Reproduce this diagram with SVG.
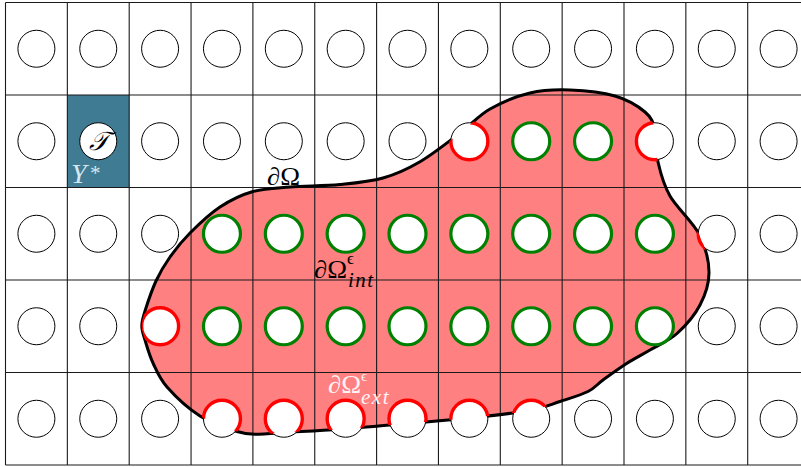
<svg xmlns="http://www.w3.org/2000/svg" xmlns:xlink="http://www.w3.org/1999/xlink" width="801" height="467" viewBox="0 0 801 467">
<style>
.grid line{stroke:#1a1a1a;stroke-width:1.1}
.hole{fill:#fff;stroke:#000;stroke-width:1}
.int{fill:#fff;stroke:#008000;stroke-width:3.2}
.ext{fill:none;stroke:#ff0000;stroke-width:3.4}
.math{font-family:"Liberation Serif","DejaVu Serif",serif}
.it{font-style:italic}
.sub{font-size:21px;letter-spacing:1.5px}
</style>
<defs>
<path id="omegaPath" d="M141.8,326 C141.8,321.17 142.63,318.5 145,311 C147.37,303.5 151.83,290 156,281 C160.17,272 164.33,265 170,257 C175.67,249 181.67,241.33 190,233 C198.33,224.67 209.5,213.92 220,207 C230.5,200.08 241.33,194.83 253,191.5 C264.67,188.17 275.5,188.17 290,187 C304.5,185.83 324.5,186 340,184.5 C355.5,183 369.67,181.8 383,178 C396.33,174.2 407.17,169.2 420,161.7 C432.83,154.2 448.33,141.78 460,133 C471.67,124.22 478.33,115.67 490,109 C501.67,102.33 516.67,96.17 530,93 C543.33,89.83 555.83,89.5 570,90 C584.17,90.5 602.5,92.33 615,96 C627.5,99.67 638.33,106.33 645,112 C651.67,117.67 652.83,121.67 655,130 C657.17,138.33 655.5,151 658,162 C660.5,173 663.17,184 670,196 C676.83,208 692.5,221.33 699,234 C705.5,246.67 708.83,260.17 709,272 C709.17,283.83 705.33,294.75 700,305 C694.67,315.25 685.33,326 677,333.5 C668.67,341 658.33,345.03 650,350 C641.67,354.97 634.83,358.3 627,363.3 C619.17,368.3 609.5,375.3 603,380 C596.5,384.7 595.17,387.92 588,391.5 C580.83,395.08 569.67,398.33 560,401.5 C550.33,404.67 545.17,407.75 530,410.5 C514.83,413.25 489.5,415.83 469,418 C448.5,420.17 428.5,421.63 407,423.5 C385.5,425.37 360.5,427.72 340,429.2 C319.5,430.68 297.67,431.57 284,432.4 C270.33,433.23 265.83,434.35 258,434.2 C250.17,434.05 246.67,434.53 237,431.5 C227.33,428.47 211.67,423.42 200,416 C188.33,408.58 174.83,395.83 167,387 C159.17,378.17 156.67,370.83 153,363 C149.33,355.17 146.87,346.17 145,340 C143.13,333.83 141.8,330.83 141.8,326 Z"/>
<clipPath id="omegaClip"><use xlink:href="#omegaPath"/></clipPath>
</defs>
<rect width="801" height="467" fill="#fff"/>
<g id="Ystar-cell"><rect x="67.35" y="95" width="61.85" height="92.5" fill="#3f7b93"/></g>
<g id="omega-fill"><use xlink:href="#omegaPath" fill="#ff8080"/></g>
<g id="grid" class="grid">
<line x1="5.5" y1="2.5" x2="801" y2="2.5"/>
<line x1="5.5" y1="95" x2="801" y2="95"/>
<line x1="5.5" y1="187.5" x2="801" y2="187.5"/>
<line x1="5.5" y1="280" x2="801" y2="280"/>
<line x1="5.5" y1="372.5" x2="801" y2="372.5"/>
<line x1="5.5" y1="465" x2="801" y2="465"/>
<line x1="5.5" y1="2.5" x2="5.5" y2="465"/>
<line x1="67.35" y1="2.5" x2="67.35" y2="465"/>
<line x1="129.2" y1="2.5" x2="129.2" y2="465"/>
<line x1="191.05" y1="2.5" x2="191.05" y2="465"/>
<line x1="252.9" y1="2.5" x2="252.9" y2="465"/>
<line x1="314.75" y1="2.5" x2="314.75" y2="465"/>
<line x1="376.6" y1="2.5" x2="376.6" y2="465"/>
<line x1="438.45" y1="2.5" x2="438.45" y2="465"/>
<line x1="500.3" y1="2.5" x2="500.3" y2="465"/>
<line x1="562.15" y1="2.5" x2="562.15" y2="465"/>
<line x1="624" y1="2.5" x2="624" y2="465"/>
<line x1="685.85" y1="2.5" x2="685.85" y2="465"/>
<line x1="747.7" y1="2.5" x2="747.7" y2="465"/>
</g>
<g id="omega-boundary"><use xlink:href="#omegaPath" fill="none" stroke="#000" stroke-width="3"/></g>
<g id="holes">
<g id="row0">
<circle class="hole" cx="36.4" cy="48.75" r="18.5"/><circle class="hole" cx="98.25" cy="48.75" r="18.5"/><circle class="hole" cx="160.1" cy="48.75" r="18.5"/><circle class="hole" cx="221.95" cy="48.75" r="18.5"/><circle class="hole" cx="283.8" cy="48.75" r="18.5"/><circle class="hole" cx="345.65" cy="48.75" r="18.5"/><circle class="hole" cx="407.5" cy="48.75" r="18.5"/><circle class="hole" cx="469.35" cy="48.75" r="18.5"/><circle class="hole" cx="531.2" cy="48.75" r="18.5"/><circle class="hole" cx="593.05" cy="48.75" r="18.5"/><circle class="hole" cx="654.9" cy="48.75" r="18.5"/><circle class="hole" cx="716.75" cy="48.75" r="18.5"/><circle class="hole" cx="778.6" cy="48.75" r="18.5"/>
</g>
<g id="row1">
<circle class="hole" cx="36.4" cy="141.25" r="18.5"/><circle class="hole" cx="160.1" cy="141.25" r="18.5"/><circle class="hole" cx="221.95" cy="141.25" r="18.5"/><circle class="hole" cx="283.8" cy="141.25" r="18.5"/><circle class="hole" cx="345.65" cy="141.25" r="18.5"/><circle class="hole" cx="407.5" cy="141.25" r="18.5"/><circle class="hole" cx="469.35" cy="141.25" r="18.5"/><circle class="int" cx="531.2" cy="141.25" r="18.5"/><circle class="int" cx="593.05" cy="141.25" r="18.5"/><circle class="hole" cx="654.9" cy="141.25" r="18.5"/><circle class="hole" cx="716.75" cy="141.25" r="18.5"/><circle class="hole" cx="778.6" cy="141.25" r="18.5"/>
</g>
<g id="row2">
<circle class="hole" cx="36.4" cy="233.75" r="18.5"/><circle class="hole" cx="98.25" cy="233.75" r="18.5"/><circle class="hole" cx="160.1" cy="233.75" r="18.5"/><circle class="int" cx="221.95" cy="233.75" r="18.5"/><circle class="int" cx="283.8" cy="233.75" r="18.5"/><circle class="int" cx="345.65" cy="233.75" r="18.5"/><circle class="int" cx="407.5" cy="233.75" r="18.5"/><circle class="int" cx="469.35" cy="233.75" r="18.5"/><circle class="int" cx="531.2" cy="233.75" r="18.5"/><circle class="int" cx="593.05" cy="233.75" r="18.5"/><circle class="int" cx="654.9" cy="233.75" r="18.5"/><circle class="hole" cx="716.75" cy="233.75" r="18.5"/><circle class="hole" cx="778.6" cy="233.75" r="18.5"/>
</g>
<g id="row3">
<circle class="hole" cx="36.4" cy="326.25" r="18.5"/><circle class="hole" cx="98.25" cy="326.25" r="18.5"/><circle class="hole" cx="160.1" cy="326.25" r="18.5"/><circle class="int" cx="221.95" cy="326.25" r="18.5"/><circle class="int" cx="283.8" cy="326.25" r="18.5"/><circle class="int" cx="345.65" cy="326.25" r="18.5"/><circle class="int" cx="407.5" cy="326.25" r="18.5"/><circle class="int" cx="469.35" cy="326.25" r="18.5"/><circle class="int" cx="531.2" cy="326.25" r="18.5"/><circle class="int" cx="593.05" cy="326.25" r="18.5"/><circle class="int" cx="654.9" cy="326.25" r="18.5"/><circle class="hole" cx="716.75" cy="326.25" r="18.5"/><circle class="hole" cx="778.6" cy="326.25" r="18.5"/>
</g>
<g id="row4">
<circle class="hole" cx="36.4" cy="418.75" r="18.5"/><circle class="hole" cx="98.25" cy="418.75" r="18.5"/><circle class="hole" cx="160.1" cy="418.75" r="18.5"/><circle class="hole" cx="221.95" cy="418.75" r="18.5"/><circle class="hole" cx="283.8" cy="418.75" r="18.5"/><circle class="hole" cx="345.65" cy="418.75" r="18.5"/><circle class="hole" cx="407.5" cy="418.75" r="18.5"/><circle class="hole" cx="469.35" cy="418.75" r="18.5"/><circle class="hole" cx="531.2" cy="418.75" r="18.5"/><circle class="hole" cx="593.05" cy="418.75" r="18.5"/><circle class="hole" cx="654.9" cy="418.75" r="18.5"/><circle class="hole" cx="716.75" cy="418.75" r="18.5"/><circle class="hole" cx="778.6" cy="418.75" r="18.5"/>
</g>
</g>
<g id="boundary-holes" clip-path="url(#omegaClip)">
<circle class="ext" cx="469.35" cy="141.25" r="18.5"/>
<circle class="ext" cx="654.9" cy="141.25" r="18.5"/>
<circle class="ext" cx="716.75" cy="233.75" r="18.5"/>
<circle class="ext" cx="160.1" cy="326.25" r="18.5"/>
<circle class="ext" cx="221.95" cy="418.75" r="18.5"/>
<circle class="ext" cx="283.8" cy="418.75" r="18.5"/>
<circle class="ext" cx="345.65" cy="418.75" r="18.5"/>
<circle class="ext" cx="407.5" cy="418.75" r="18.5"/>
<circle class="ext" cx="469.35" cy="418.75" r="18.5"/>
<circle class="ext" cx="531.2" cy="418.75" r="18.5"/>
</g>
<g id="cell-T">
<circle class="hole" cx="98.25" cy="141.25" r="18.5"/>
<text class="math it" x="98.5" y="150" font-size="26" text-anchor="middle" fill="#000">𝒯</text>
</g>
<g id="labels">
<text class="math it" x="71" y="183" font-size="28" fill="#d6e6ee">Y</text>
<text class="math" x="90" y="180" font-size="21" fill="#d6e6ee">*</text>
<text class="math" x="267" y="185" font-size="25" textLength="33" lengthAdjust="spacingAndGlyphs" fill="#000">∂Ω</text>
<text class="math" x="314" y="278" font-size="25" textLength="33" lengthAdjust="spacingAndGlyphs" fill="#000">∂Ω</text>
<text class="math" x="347" y="264" font-size="17" fill="#000">ϵ</text>
<text class="math it sub" x="348" y="287" fill="#000">int</text>
<text class="math" x="328" y="393" font-size="25" textLength="33" lengthAdjust="spacingAndGlyphs" fill="#fff3f3">∂Ω</text>
<text class="math" x="361" y="381" font-size="15" fill="#fff3f3">ϵ</text>
<text class="math it sub" x="361" y="404" fill="#fff3f3">ext</text>
</g>
</svg>
